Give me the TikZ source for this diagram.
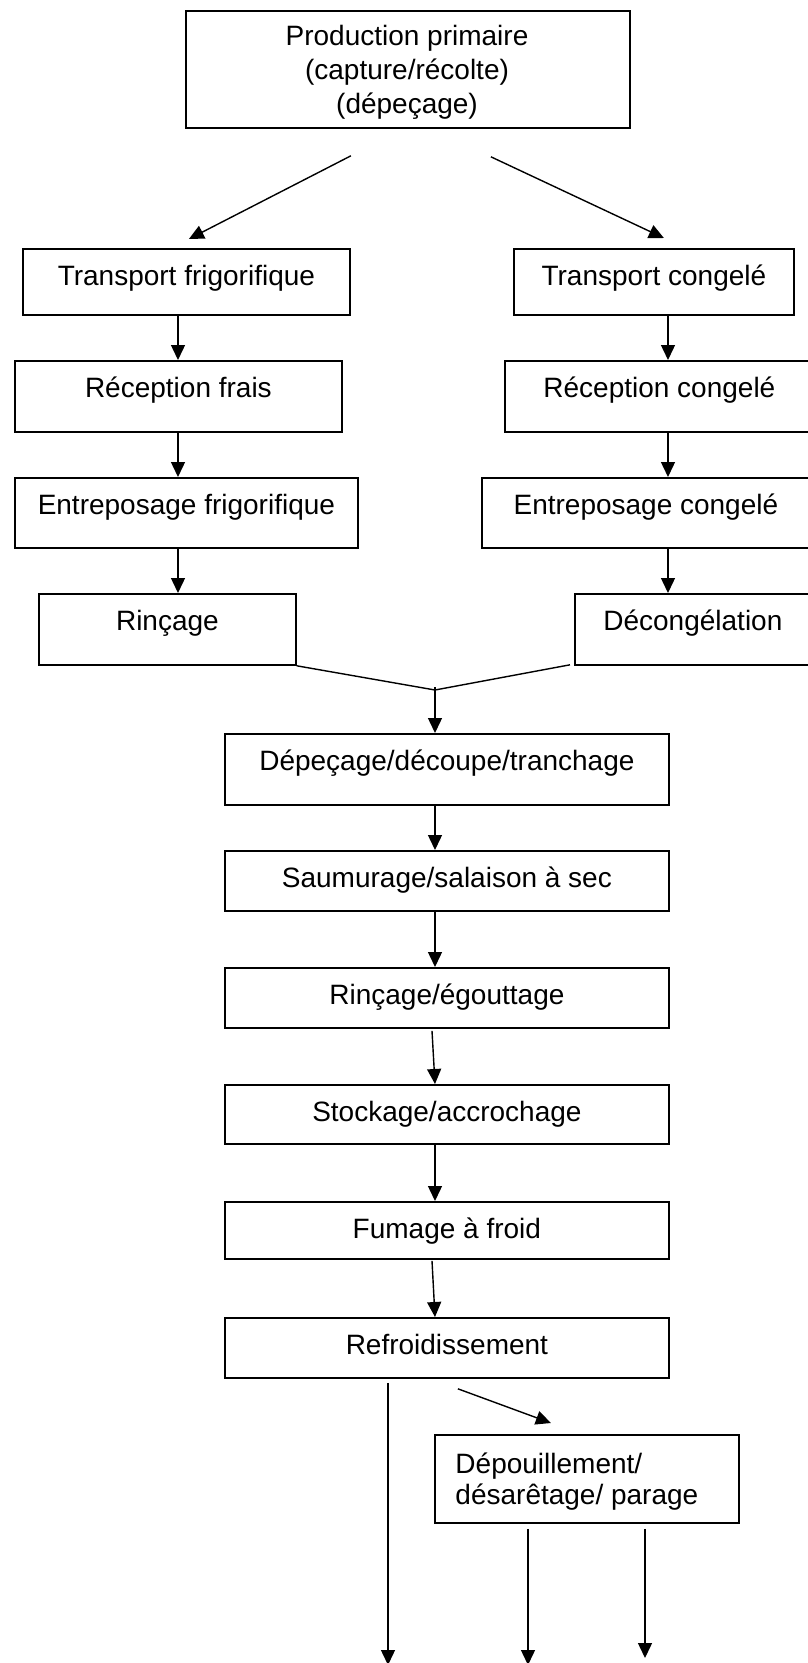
\documentclass[tikz,border=0pt]{standalone}
\usepackage{fontspec}
\setmainfont{Liberation Sans}
\usetikzlibrary{arrows.meta,calc}
\begin{document}
\begin{tikzpicture}[x=1pt,y=-1pt,
  box/.style={draw, line width=1.8pt, inner sep=0pt, anchor=north west, text height=37pt, font=\fontsize{28}{32}\selectfont},
  arr/.style={line width=1.4pt, -{Triangle[length=15pt,width=14pt]}},
  link/.style={line width=1.4pt}]
\fill[white] (0,0) rectangle (807,1663);
\useasboundingbox (0,0) rectangle (807,1663);

% top box
\node[draw, line width=1.8pt, inner sep=0pt, anchor=north west, minimum width=444pt, minimum height=117pt] (prod) at (185,10) {};
\begin{scope}
\clip (185,10) rectangle (629,118);
\node[anchor=base, inner sep=0pt, font=\fontsize{28}{34}\selectfont] (prodtext) at (407,45)
  {\begin{tabular}[t]{@{}c@{}}Production primaire\\(capture/récolte)\\(dépeçage)\end{tabular}};
\end{scope}

% left column
\node[box, minimum width=327pt, text depth=29pt] (TF) at (22,248) {Transport frigorifique};
\node[box, minimum width=327pt, text depth=34pt] (RF) at (14,360) {Réception frais};
\node[box, minimum width=343pt, text depth=33pt] (EF) at (14,477) {Entreposage frigorifique};
\node[box, minimum width=257pt, text depth=34pt] (R) at (38,593) {Rinçage};

% right column
\node[box, minimum width=280pt, text depth=29pt] (TC) at (513,248) {Transport congelé};
\node[box, minimum width=309pt, text depth=34pt] (RC) at (504,360) {Réception congelé};
\node[box, minimum width=328pt, text depth=33pt] (EC) at (481,477) {Entreposage congelé};
\node[box, minimum width=236pt, text depth=34pt] (D) at (574,593) {Décongélation};

% main column
\node[box, minimum width=444pt, text depth=34pt] (DDT) at (224,733) {Dépeçage/découpe/tranchage};
\node[box, minimum width=444pt, text depth=23pt] (SSS) at (224,850) {Saumurage/salaison à sec};
\node[box, minimum width=444pt, text depth=23pt] (RE) at (224,967) {Rinçage/égouttage};
\node[box, minimum width=444pt, text depth=22pt] (SA) at (224,1084) {Stockage/accrochage};
\node[box, minimum width=444pt, text depth=20pt] (FF) at (224,1201) {Fumage à froid};
\node[box, minimum width=444pt, text depth=23pt] (REF) at (224,1317) {Refroidissement};

\node[box, minimum width=304pt, text height=39pt, text depth=49pt, font=\fontsize{28}{31}\selectfont] (DDP) at (434,1434)
  {\begin{tabular}[t]{@{}l@{\hspace{20pt}}}Dépouillement/\\désarêtage/ parage\end{tabular}};

% column coordinates
\coordinate (cL) at (178,0);
\coordinate (cR) at (668,0);
\coordinate (cM) at (435,0);
\coordinate (J) at (435,690);
\coordinate (o1) at (388,1665);
\coordinate (o2) at (528,1665);
\coordinate (o3) at (645,1658);

% connectors
\draw[arr] ($(prod.south)+(-57,27)$) -- ($(TF.north)+(2.5,-9)$);
\draw[arr] ($(prod.south)+(83,28)$) -- ($(TC.north)+(10,-10)$);

\draw[arr] (TF.south -| cL) -- (RF.north -| cL);
\draw[arr] (RF.south -| cL) -- (EF.north -| cL);
\draw[arr] (EF.south -| cL) -- (R.north -| cL);

\draw[arr] (TC.south -| cR) -- (RC.north -| cR);
\draw[arr] (RC.south -| cR) -- (EC.north -| cR);
\draw[arr] (EC.south -| cR) -- (D.north -| cR);

\draw[link] (R.south east) -- (J) -- ($(D.south west)+(-4,-1)$);
\draw[arr] ($(J)+(0,-3)$) -- (DDT.north -| cM);

\draw[arr] (DDT.south -| cM) -- (SSS.north -| cM);
\draw[arr] (SSS.south -| cM) -- (RE.north -| cM);
\draw[arr] ($(RE.south -| cM)+(-3,2)$) -- (SA.north -| cM);
\draw[arr] (SA.south -| cM) -- (FF.north -| cM);
\draw[arr] ($(FF.south -| cM)+(-3,1)$) -- (REF.north -| cM);

\draw[arr] ($(REF.south -| o1)+(0,4)$) -- (o1);
\draw[arr] ($(REF.south)+(11,10)$) -- ($(DDP.north)+(-36,-11)$);
\draw[arr] ($(DDP.south -| o2)+(0,5)$) -- (o2);
\draw[arr] ($(DDP.south -| o3)+(0,5)$) -- (o3);
\end{tikzpicture}
\end{document}
